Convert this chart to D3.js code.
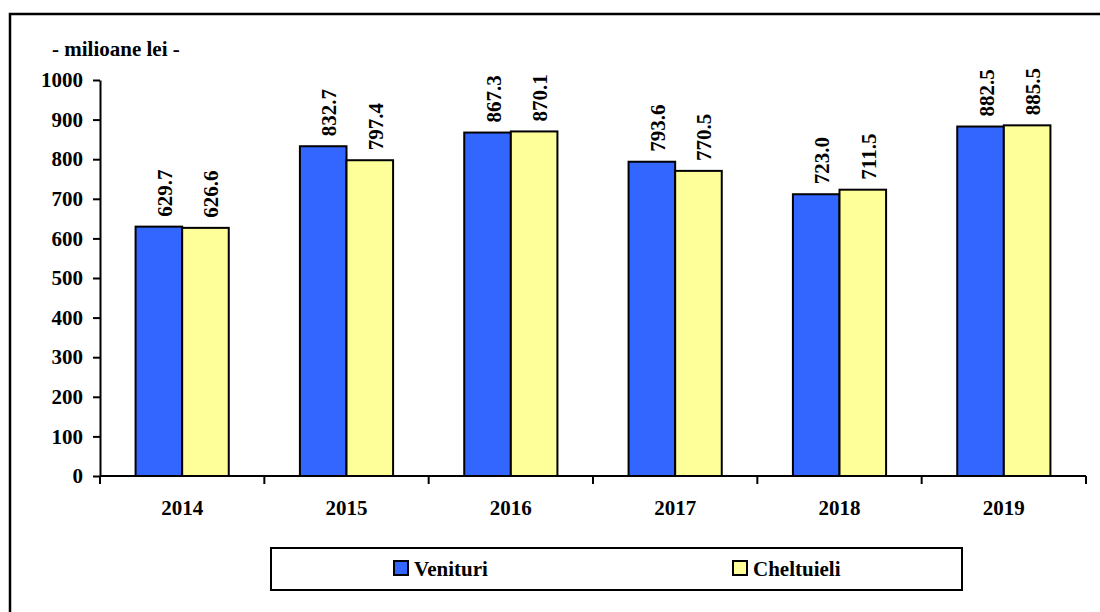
<!DOCTYPE html>
<html lang="ro">
<head>
    <meta charset="UTF-8">
    <title>Venituri si cheltuieli</title>
    <style>
        body { margin: 0; padding: 0; background: #fff; }
        svg { display: block; }
    </style>
</head>
<body>
<script src="https://d3js.org/d3.v7.min.js"></script>
<script>
    const width = 1100
    const height = 612
    const font = "'Liberation Serif', 'Times New Roman', Times, 'DejaVu Serif', serif"

    // data
    const years = ['2014', '2015', '2016', '2017', '2018', '2019']
    const venituri = [629.7, 832.7, 867.3, 793.6, 711.5, 882.5]
    const cheltuieli = [626.6, 797.4, 870.1, 770.5, 723.0, 885.5]
    // value labels as printed on the chart (2018 pair is printed swapped)
    const venituriLabels = ['629.7', '832.7', '867.3', '793.6', '723.0', '882.5']
    const cheltuieliLabels = ['626.6', '797.4', '870.1', '770.5', '711.5', '885.5']
    const yTicks = [0, 100, 200, 300, 400, 500, 600, 700, 800, 900, 1000]

    const seriesNames = ['Venituri', 'Cheltuieli']
    const colors = ['#3366ff', '#ffff99']

    const svg = d3.select('body').append('svg')
        .attr('width', width)
        .attr('height', height)
        .style('font-family', font)
        .style('font-weight', 'bold')

    // outer frame (cropped: only top and left visible)
    svg.append('path')
        .attr('d', `M10,612 V14 H1100`)
        .attr('fill', 'none')
        .attr('stroke', '#000')
        .attr('stroke-width', 2.5)

    const x = d3.scaleBand()
        .domain(years)
        .range([100, 1086])
        .paddingInner(0.433)
        .paddingOuter(0.2165)

    const x1 = d3.scaleBand()
        .domain(seriesNames)
        .range([0, x.bandwidth()])

    const y = d3.scaleLinear()
        .domain([0, 1000])
        .range([476, 80])

    const table = years.map((yr, i) => ({
        year: yr,
        values: [
            { name: 'Venituri', value: venituri[i], label: venituriLabels[i] },
            { name: 'Cheltuieli', value: cheltuieli[i], label: cheltuieliLabels[i] }
        ]
    }))

    const groups = svg.append('g').selectAll('g')
        .data(table)
        .join('g')
        .attr('transform', d => `translate(${x(d.year)},0)`)

    groups.selectAll('rect')
        .data(d => d.values)
        .join('rect')
        .attr('x', d => x1(d.name))
        .attr('y', d => y(d.value))
        .attr('width', x1.bandwidth())
        .attr('height', d => y(0) - y(d.value))
        .attr('fill', (d, i) => colors[i])
        .attr('stroke', '#000')
        .attr('stroke-width', 2)

    groups.selectAll('text')
        .data(d => d.values)
        .join('text')
        .attr('transform', d => `translate(${x1(d.name) + x1.bandwidth() / 2 + 13},${y(d.value) - 10}) rotate(-90)`)
        .style('font-size', '21px')
        .text(d => d.label)

    // y axis
    const yAxis = svg.append('g')
        .attr('transform', 'translate(100,0)')
        .call(d3.axisLeft(y).tickValues(yTicks).tickFormat(d3.format('d'))
            .tickSize(7).tickPadding(10).tickSizeOuter(0))
    yAxis.attr('font-family', null).attr('font-size', null)
    yAxis.select('.domain').attr('stroke-width', 2)
    yAxis.selectAll('.tick line').attr('stroke-width', 2)
    yAxis.selectAll('.tick text')
        .style('font-size', '21px')
        .style('font-family', font)
        .style('font-weight', 'bold')

    // x axis with ticks at the category boundaries
    const xg = svg.append('g')
    xg.append('line')
        .attr('x1', 100).attr('x2', 1086)
        .attr('y1', y(0)).attr('y2', y(0))
        .attr('stroke', '#000').attr('stroke-width', 2)
    const boundaries = years.map(yr => x(yr) - x.step() * x.paddingOuter())
        .concat([x(years[years.length - 1]) + x.bandwidth() + x.step() * x.paddingOuter()])
    xg.selectAll('line.tk')
        .data(boundaries)
        .join('line')
        .attr('class', 'tk')
        .attr('x1', d => d).attr('x2', d => d)
        .attr('y1', y(0)).attr('y2', y(0) + 8)
        .attr('stroke', '#000').attr('stroke-width', 2)
    xg.selectAll('text')
        .data(years)
        .join('text')
        .attr('x', d => x(d) + x.bandwidth() / 2)
        .attr('y', 515)
        .attr('text-anchor', 'middle')
        .style('font-size', '21px')
        .text(d => d)

    // unit label
    svg.append('text')
        .attr('x', 52)
        .attr('y', 56)
        .style('font-size', '21px')
        .text('- milioane lei -')

    // legend
    const legend = svg.append('g')
    legend.append('rect')
        .attr('x', 271).attr('y', 548)
        .attr('width', 691).attr('height', 42)
        .attr('fill', '#fff')
        .attr('stroke', '#000')
        .attr('stroke-width', 2)
    const legendX = [394, 733]
    const item = legend.selectAll('g')
        .data(seriesNames)
        .join('g')
        .attr('transform', (d, i) => `translate(${legendX[i]},561)`)
    item.append('rect')
        .attr('width', 14).attr('height', 14)
        .attr('fill', (d, i) => colors[i])
        .attr('stroke', '#000')
        .attr('stroke-width', 2)
    item.append('text')
        .attr('x', 20)
        .attr('y', 15)
        .style('font-size', '21px')
        .text(d => d)
</script>
</body>
</html>
